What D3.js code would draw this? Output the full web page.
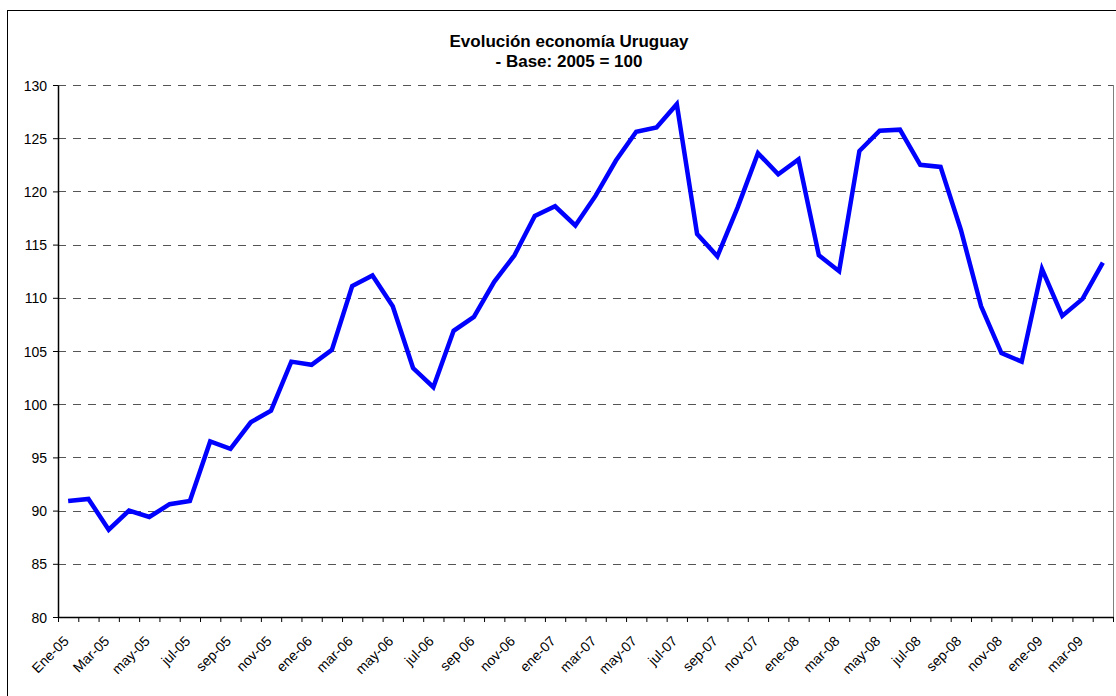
<!DOCTYPE html>
<html>
<head>
<meta charset="utf-8">
<script src="https://cdn.jsdelivr.net/npm/d3@7"></script>
<style>
  body { margin: 0; background: #fff; }
  text { font-family: Arial, "Liberation Sans", sans-serif; }
</style>
</head>
<body>
<div id="chart"></div>
<script>
// values, Jan 2005 .. Apr 2009 (one per month)
var values = [90.9, 91.1, 88.2, 90.0, 89.4, 90.6, 90.9, 96.5, 95.8, 98.3, 99.4, 104.0,
              103.7, 105.1, 111.1, 112.1, 109.2, 103.4, 101.6, 106.9, 108.2, 111.5, 114.0, 117.7,
              118.6, 116.8, 119.6, 122.9, 125.6, 126.0, 128.2, 116.0, 113.9, 118.5, 123.6, 121.6,
              123.0, 114.0, 112.5, 123.8, 125.7, 125.8, 122.5, 122.3, 116.4, 109.2, 104.8, 104.0,
              112.7, 108.3, 109.9, 113.3];
// labels shown every second month
var tickLabels = ["Ene-05", "Mar-05", "may-05", "jul-05", "sep-05", "nov-05",
                  "ene-06", "mar-06", "may-06", "jul-06", "sep 06", "nov-06",
                  "ene-07", "mar-07", "may-07", "jul-07", "sep-07", "nov-07",
                  "ene-08", "mar-08", "may-08", "jul-08", "sep-08", "nov-08",
                  "ene-09", "mar-09"];
var yTicks = [80, 85, 90, 95, 100, 105, 110, 115, 120, 125, 130];
var titleLines = ["Evolución economía Uruguay", "- Base: 2005 = 100"];

var W = 1116, H = 696;
var margin = {top: 85, left: 58},
    width = 1055,
    height = 532;

var root = d3.select("#chart")
  .append("svg")
    .attr("width", W)
    .attr("height", H);

// outer chart frame
root.append("rect")
    .attr("x", 7.5).attr("y", 10.5)
    .attr("width", W + 20).attr("height", H + 20)
    .attr("fill", "none")
    .attr("stroke", "#000")
    .attr("stroke-width", 1);

// title
root.append("text")
    .attr("x", 569).attr("y", 47)
    .attr("text-anchor", "middle")
    .style("font-size", "17px").style("font-weight", "bold")
    .text(titleLines[0]);
root.append("text")
    .attr("x", 569).attr("y", 67)
    .attr("text-anchor", "middle")
    .style("font-size", "17px").style("font-weight", "bold")
    .text(titleLines[1]);

var svg = root.append("g")
    .attr("transform", "translate(" + margin.left + "," + margin.top + ")");

// category scale (points in the middle of each month) and a boundary scale for ticks
var x = d3.scaleBand()
  .domain(d3.range(values.length))
  .range([0, width]);
var xEdge = d3.scaleLinear()
  .domain([0, values.length])
  .range([0, width]);

var y = d3.scaleLinear()
  .domain([80, 130])
  .range([height, 0]);

// right border of plot area
svg.append("line")
    .attr("x1", width + 0.5).attr("x2", width + 0.5)
    .attr("y1", 0).attr("y2", height)
    .attr("stroke", "#808080");

// dashed gridlines
svg.append("g")
  .selectAll("line")
  .data(yTicks.filter(function(d) { return d > 80; }))
  .enter().append("line")
    .attr("x1", 0).attr("x2", width)
    .attr("y1", function(d) { return Math.round(y(d)) + 0.5; })
    .attr("y2", function(d) { return Math.round(y(d)) + 0.5; })
    .attr("stroke", "#555")
    .attr("stroke-width", 1.2)
    .attr("stroke-dasharray", "8,7");

// Add Y axis
var yAxis = svg.append("g")
  .call(d3.axisLeft(y).tickValues(yTicks).tickSize(5).tickSizeOuter(0).tickPadding(6));
yAxis.select(".domain").attr("stroke", "#000").attr("stroke-width", 1.5);
yAxis.selectAll("text").style("font-size", "14px").attr("fill", "#000").attr("dy", "0.36em");

// Add X axis (ticks between months)
var xAxis = svg.append("g")
  .attr("transform", "translate(0," + height + ")")
  .call(d3.axisBottom(xEdge).tickValues(d3.range(values.length + 1)).tickSize(5).tickSizeOuter(0).tickFormat(""));
xAxis.select(".domain").attr("stroke", "#000").attr("stroke-width", 1.5);

svg.append("g")
  .selectAll("text")
  .data(tickLabels)
  .enter().append("text")
    .attr("transform", function(d, i) {
      var cx = x(i * 2) + x.bandwidth() / 2 + 1.5;
      return "translate(" + cx + "," + (height + 25) + ") rotate(-45)";
    })
    .attr("text-anchor", "end")
    .style("font-size", "14px")
    .text(function(d) { return d; });

// Add the line
svg.append("path")
    .datum(values)
    .attr("fill", "none")
    .attr("stroke", "#0000ff")
    .attr("stroke-width", 4.5)
    .attr("stroke-linejoin", "miter")
    .attr("d", d3.line()
      .x(function(d, i) { return x(i) + x.bandwidth() / 2; })
      .y(function(d) { return y(d); })
    );
</script>
</body>
</html>
